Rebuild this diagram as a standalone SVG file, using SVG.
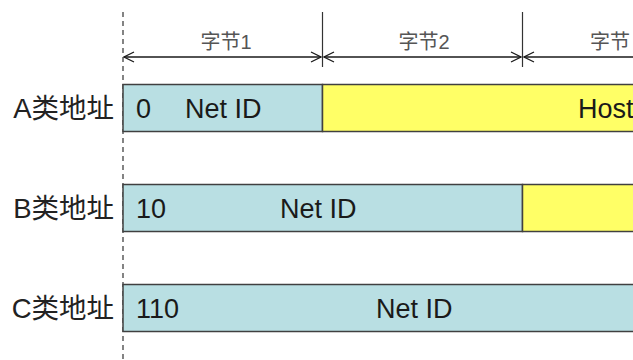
<svg xmlns="http://www.w3.org/2000/svg" width="633" height="360" viewBox="0 0 633 360">
<style>
.t{font-family:"Liberation Sans","Noto Sans CJK SC",sans-serif;fill:#1a1a1a}
.big{font-size:27px}
.lbl{font-size:27.5px;fill:#222}
.hdr{font-size:20px;fill:#555}
.blue{fill:#B9DFE3;stroke:#404040;stroke-width:1.5}
.yel{fill:#FFFF66;stroke:#404040;stroke-width:1.5}
.dim{stroke:#1a1a1a;stroke-width:1.3;fill:none}
</style>
<defs>
<marker id="ah" viewBox="0 0 12 12" refX="11" refY="6" markerWidth="12" markerHeight="12" markerUnits="userSpaceOnUse" orient="auto-start-reverse">
<path d="M1,1 L11,6 L1,11" fill="none" stroke="#1a1a1a" stroke-width="1.3"/>
</marker>
</defs>
<rect width="633" height="360" fill="#fff"/>
<g id="connectors">
<line x1="123" y1="12" x2="123" y2="360" stroke="#333" stroke-width="1.2" stroke-dasharray="5,4"/>
<line x1="322.5" y1="12" x2="322.5" y2="67" stroke="#333" stroke-width="1.2"/>
<line x1="522.5" y1="12" x2="522.5" y2="67" stroke="#333" stroke-width="1.2"/>
<line class="dim" x1="124" y1="57" x2="321" y2="57" marker-start="url(#ah)" marker-end="url(#ah)"/>
<line class="dim" x1="324" y1="57" x2="521" y2="57" marker-start="url(#ah)" marker-end="url(#ah)"/>
<line class="dim" x1="524" y1="57" x2="660" y2="57" marker-start="url(#ah)"/>
</g>
<g id="byte-labels">
<text class="t hdr" x="226" y="49" text-anchor="middle">字节1</text>
<text class="t hdr" x="424" y="49" text-anchor="middle">字节2</text>
<text class="t hdr" x="590" y="49">字节</text>
</g>
<g id="classA">
<text class="t lbl" x="114" y="118" text-anchor="end">A类地址</text>
<rect class="blue" x="123" y="84.5" width="199.5" height="47"/>
<rect class="yel" x="322.5" y="84.5" width="330" height="47"/>
<text class="t big" x="136" y="118">0</text>
<text class="t big" x="185" y="118">Net ID</text>
<text class="t big" x="578" y="118">Host</text>
</g>
<g id="classB">
<text class="t lbl" x="114" y="218" text-anchor="end">B类地址</text>
<rect class="blue" x="123" y="184.5" width="399.5" height="47"/>
<rect class="yel" x="522.5" y="184.5" width="130" height="47"/>
<text class="t big" x="136" y="218">10</text>
<text class="t big" x="280" y="218">Net ID</text>
</g>
<g id="classC">
<text class="t lbl" x="114" y="318" text-anchor="end">C类地址</text>
<rect class="blue" x="123" y="284.5" width="530" height="47"/>
<text class="t big" x="136" y="318">110</text>
<text class="t big" x="376" y="318">Net ID</text>
</g>
</svg>
